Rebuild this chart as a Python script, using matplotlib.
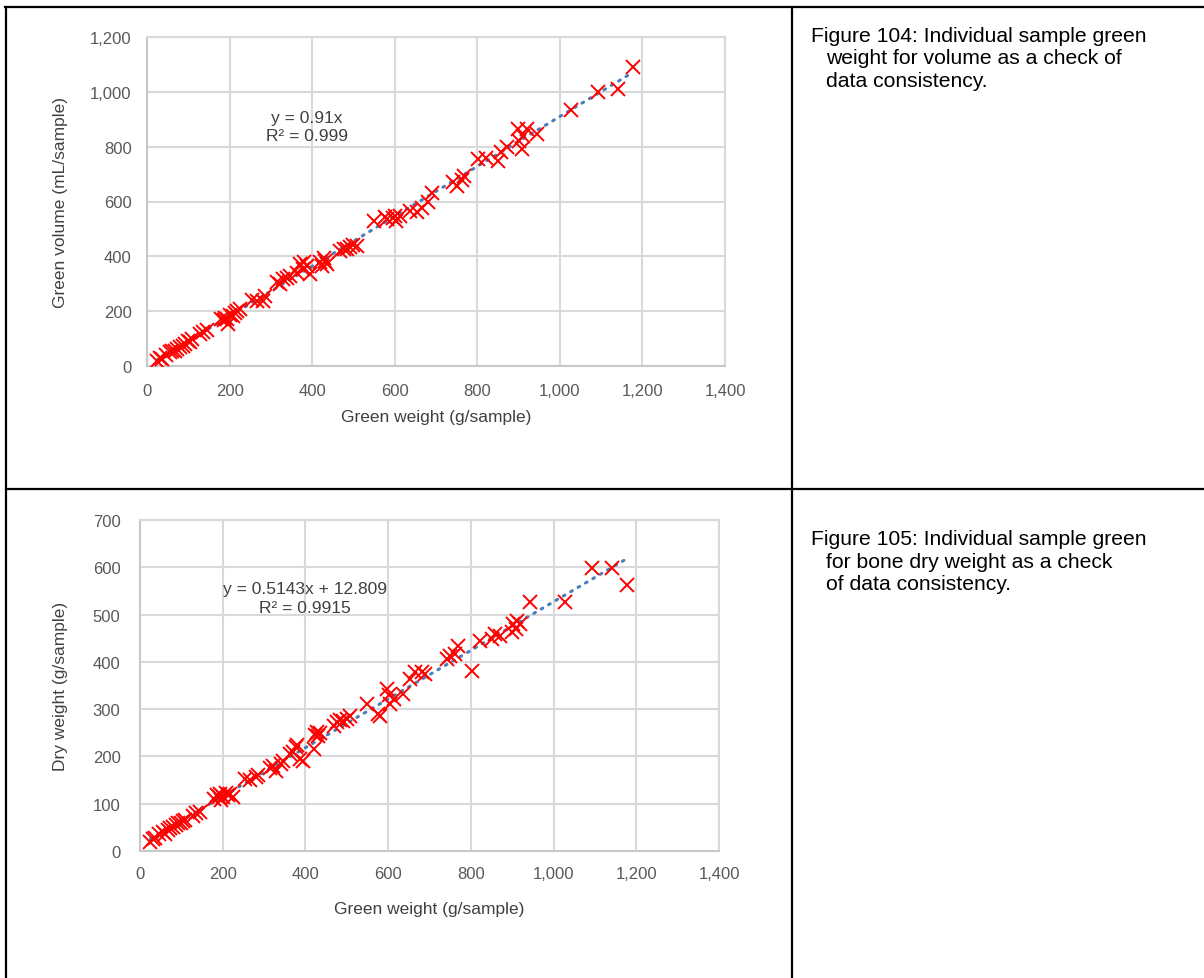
import numpy as np
import matplotlib
matplotlib.use("Agg")
import matplotlib.pyplot as plt
from matplotlib.lines import Line2D
from matplotlib.ticker import FuncFormatter

# green weight per sample (g/sample), shared by both charts
green_w = [25, 32, 36, 45, 55, 60, 68, 72, 80, 87, 93, 100, 104, 110, 128, 136, 145,
           180, 187, 190, 194, 196, 200, 208, 212, 218, 225, 254, 266, 281, 286, 315,
           322, 330, 340, 346, 363, 371, 378, 380, 387, 395, 420, 423, 428, 431, 436,
           468, 476, 484, 492, 500, 508, 549, 576, 581, 597, 601, 604, 613, 636, 653,
           665, 681, 690, 742, 750, 762, 769, 802, 822, 850, 858, 871, 899, 902, 908,
           911, 920, 944, 1027, 1092, 1141, 1177]
# green volume (mL/sample)
green_vol = [20, 28, 25, 40, 50, 55, 54, 62, 70, 73, 82, 90, 87, 100, 117, 124, 130,
             170, 166, 175, 171, 153, 185, 182, 195, 200, 208, 240, 237, 237, 255, 306,
             300, 317, 320, 330, 340, 372, 354, 379, 366, 336, 380, 366, 395, 384, 372,
             420, 427, 427, 434, 440, 437, 530, 545, 537, 540, 548, 530, 548, 565, 561,
             575, 600, 630, 670, 656, 680, 693, 755, 760, 748, 780, 799, 864, 820, 791,
             839, 864, 846, 934, 999, 1010, 1090]
# bone dry weight (g/sample)
dry_w = [19, 25, 28, 36, 40, 36, 45, 48, 50, 55, 59, 60, 64, 65, 75, 80, 82,
         110, 118, 114, 120, 108, 115, 122, 118, 121, 115, 152, 150, 156, 160, 175,
         180, 170, 185, 191, 205, 210, 219, 225, 195, 191, 216, 245, 251, 244, 250,
         264, 272, 278, 275, 279, 285, 311, 290, 285, 343, 330, 311, 321, 332, 364,
         378, 378, 375, 406, 413, 417, 434, 381, 444, 448, 459, 455, 463, 480, 470,
         486, 480, 526, 526, 598, 598, 562]

# trendline coefficients shown on the charts
vol_slope, vol_icpt = 0.91, 0.0
dry_slope, dry_icpt = 0.5143, 12.809

W, H = 1204, 979
fig = plt.figure(figsize=(W / 100, H / 100), dpi=100)

arial = ["Liberation Sans", "DejaVu Sans"]
grid_c = "#D9D9D9"
tick_c = "#595959"


def px_axes(l, t, r, b):
    return fig.add_axes([l / W, 1 - b / H, (r - l) / W, (b - t) / H])


def style(ax, ymax, ystep, xpad, ypad):
    ax.set_xlim(0, 1400)
    ax.set_ylim(0, ymax)
    ax.set_xticks(np.arange(0, 1401, 200))
    ax.set_yticks(np.arange(0, ymax + 1, ystep))
    fmt = FuncFormatter(lambda v, p: f"{int(v):,}")
    ax.xaxis.set_major_formatter(fmt)
    ax.yaxis.set_major_formatter(fmt)
    ax.grid(True, color=grid_c, lw=1.5)
    ax.set_axisbelow(True)
    for s in ax.spines.values():
        s.set_color(grid_c)
        s.set_linewidth(1.5)
    ax.spines["left"].set_color("#C8C8C8")
    ax.spines["bottom"].set_color("#C8C8C8")
    ax.tick_params(axis="x", length=0, pad=xpad, labelcolor=tick_c, labelsize=12)
    ax.tick_params(axis="y", length=0, pad=ypad, labelcolor=tick_c, labelsize=12)
    for lab in ax.get_xticklabels() + ax.get_yticklabels():
        lab.set_family(arial)


def panel(ax, y, slope, icpt, eq, ymax, ystep, ylabel, xpad, ypad, ylx, xly, eqx, eqy):
    style(ax, ymax, ystep, xpad, ypad)
    xs = np.array([min(green_w), max(green_w)])
    ax.plot(xs, slope * xs + icpt, color="#4A7EBB", lw=2.2,
            ls=(0, (0.6, 2.2)), dash_capstyle="round", zorder=2)
    ax.plot(green_w, y, ls="", marker="x", ms=10.5, mew=1.4, color="#FF0000", zorder=3)
    ax.set_ylabel(ylabel, family=arial, fontsize=12.5, color="#404040")
    ax.yaxis.set_label_coords(ylx, 0.5)
    ax.set_xlabel("Green weight (g/sample)", family=arial, fontsize=12.5,
                  color="#404040", va="center")
    ax.xaxis.set_label_coords(0.5, xly)
    ax.text(eqx, eqy, eq, transform=ax.transAxes, ha="center", va="center",
            family=arial, fontsize=12.5, color="#404040", linespacing=1.3)


ax1 = px_axes(147, 38, 725, 367)
panel(ax1, green_vol, vol_slope, vol_icpt, "y = 0.91x\nR² = 0.999", 1200, 200,
      "Green volume (mL/sample)", 12, 11, -0.137, -0.155, 0.277, 0.728)

ax2 = px_axes(140, 521, 719, 852)
panel(ax2, dry_w, dry_slope, dry_icpt, "y = 0.5143x + 12.809\nR² = 0.9915", 700, 100,
      "Dry weight (g/sample)", 11, 14, -0.124, -0.175, 0.285, 0.764)

# table borders
def hline(y, x0, x1):
    fig.add_artist(Line2D([x0 / W, x1 / W], [1 - y / H, 1 - y / H], color="black", lw=1.6))


def vline(x, y0, y1):
    fig.add_artist(Line2D([x / W, x / W], [1 - y0 / H, 1 - y1 / H], color="black", lw=1.6))


hline(8, 5, W)
hline(490, 6, W)
vline(6, 8, H)
vline(792, 8, H)

# captions with hanging indent
cap1 = ["Figure 104: Individual sample green", "weight for volume as a check of",
        "data consistency."]
cap2 = ["Figure 105: Individual sample green", "for bone dry weight as a check",
        "of data consistency."]
for lines, base in [(cap1, 42), (cap2, 545)]:
    for i, txt in enumerate(lines):
        x = 811 if i == 0 else 826
        fig.text(x / W, 1 - (base + i * 22.5) / H, txt, family=arial, fontsize=15.2,
                 color="black", ha="left", va="baseline")

fig.savefig("out.png", dpi=100)
